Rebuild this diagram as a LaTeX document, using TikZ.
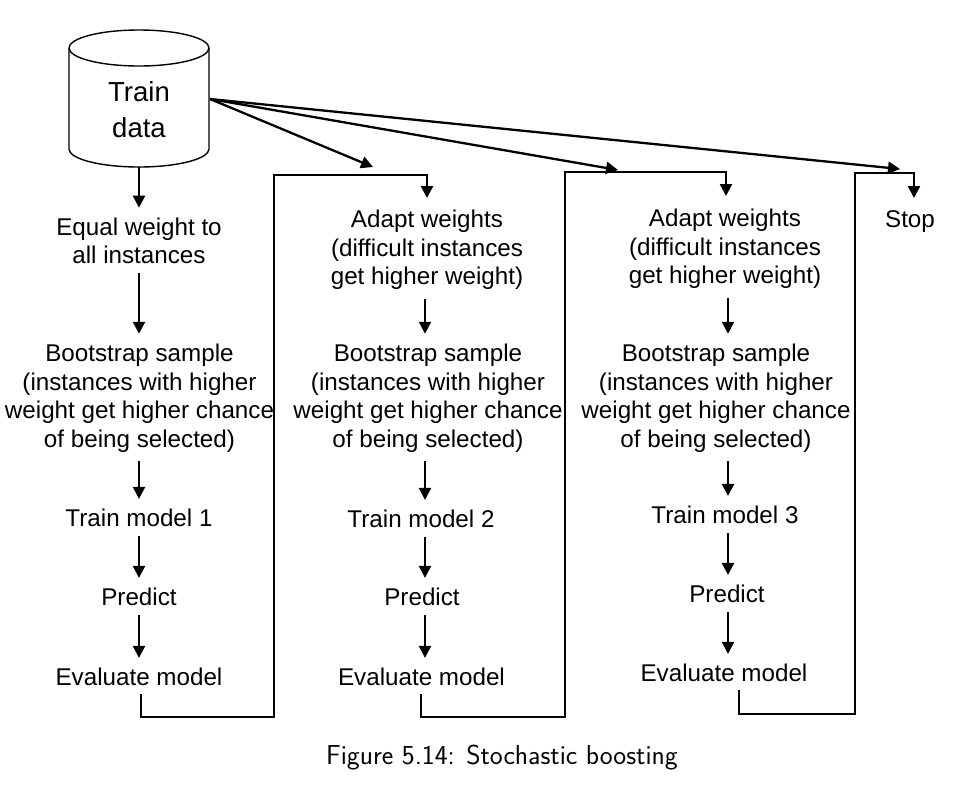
\documentclass[tikz,border=0pt]{standalone}
\usepackage{fontspec}
\setmainfont{Liberation Sans}
\usetikzlibrary{arrows.meta}
\begin{document}
\begin{tikzpicture}[x=1pt,y=-1pt,
  txt/.style={align=center,inner sep=0pt,font=\fontsize{24.2}{28.5}\selectfont},
  ln/.style={line width=2.3pt,line join=miter},
  arr/.style={ln,-{Triangle[length=12pt,width=12pt]}},
  varr/.style={arr,shorten <=9pt,shorten >=10pt}]
\useasboundingbox (0,0) rectangle (972,796);
% cylinder
\draw[line width=1.4pt] (69,48) -- (69,149) arc[start angle=180,end angle=0,x radius=70,y radius=18] -- (209,48);
\draw[line width=1.4pt] (139,48) ellipse[x radius=70,y radius=18];
\node[align=center,inner sep=0pt,font=\fontsize{27.5}{36}\selectfont] (db) at (139,110) {Train\\data};
\coordinate (dbb) at (139,167);
\coordinate (dbr) at (210,99);
% column 1
\coordinate (c1) at (139,0);
\node[txt] (eq) at (139,241) {Equal weight to\\all instances};
\node[txt] (bs1) at (139.5,398) {Bootstrap sample\\(instances with higher\\weight get higher chance\\of being selected)};
\node[txt] (tm1) at (139,518) {Train model 1};
\node[txt] (pr1) at (139,597) {Predict};
\node[txt] (ev1) at (139,677) {Evaluate model};
% column 2
\coordinate (c2) at (425,0);
\node[txt] (ad2) at (427,250) {Adapt weights\\(difficult instances\\get higher weight)};
\node[txt] (bs2) at (428,398) {Bootstrap sample\\(instances with higher\\weight get higher chance\\of being selected)};
\node[txt] (tm2) at (421,519) {Train model 2};
\node[txt] (pr2) at (422,597) {Predict};
\node[txt] (ev2) at (421.5,677) {Evaluate model};
% column 3
\coordinate (c3) at (728,0);
\node[txt] (ad3) at (725,249) {Adapt weights\\(difficult instances\\get higher weight)};
\node[txt] (bs3) at (716,398) {Bootstrap sample\\(instances with higher\\weight get higher chance\\of being selected)};
\node[txt] (tm3) at (725,515) {Train model 3};
\node[txt] (pr3) at (727,594) {Predict};
\node[txt] (ev3) at (724,673) {Evaluate model};
\node[txt] (stop) at (910,222) {Stop};
% vertical arrows
\draw[arr,shorten >=10pt] (dbb) -- (eq.north -| c1);
\foreach \a/\b/\c in {eq/bs1/c1,bs1/tm1/c1,tm1/pr1/c1,pr1/ev1/c1,
                      ad2/bs2/c2,bs2/tm2/c2,tm2/pr2/c2,pr2/ev2/c2,
                      ad3/bs3/c3,bs3/tm3/c3,tm3/pr3/c3,pr3/ev3/c3}
  \draw[varr] (\a.south -| \c) -- (\b.north -| \c);
% brackets
\coordinate (t2) at (427,198);
\coordinate (t3) at (726,196);
\coordinate (t4) at (914,198);
\draw[arr] (ev1.south -| 141,0) ++(0,8) -- (141,717) -- (274,717) -- (274,175) -- (427,175) -- (t2);
\draw[arr] (ev2.south -| 421,0) ++(0,8) -- (421,717) -- (565,717) -- (565,172) -- (726,172) -- (t3);
\draw[arr] (ev3.south -| 739,0) ++(0,8) -- (739,714) -- (855,714) -- (855,173) -- (914,173) -- (t4);
% fan arrows
\coordinate (f1) at (373,167);
\coordinate (f2) at (618,170);
\coordinate (f3) at (900,169);
\draw[arr] (dbr) -- (f1);
\draw[arr] (dbr) -- (f2);
\draw[arr] (dbr) -- (f3);
% caption
\node[inner sep=0pt,font=\sffamily\fontsize{27.4}{32}\selectfont] (cap) at (502,758) {Figure 5.14: Stochastic boosting};
\end{tikzpicture}
\end{document}
